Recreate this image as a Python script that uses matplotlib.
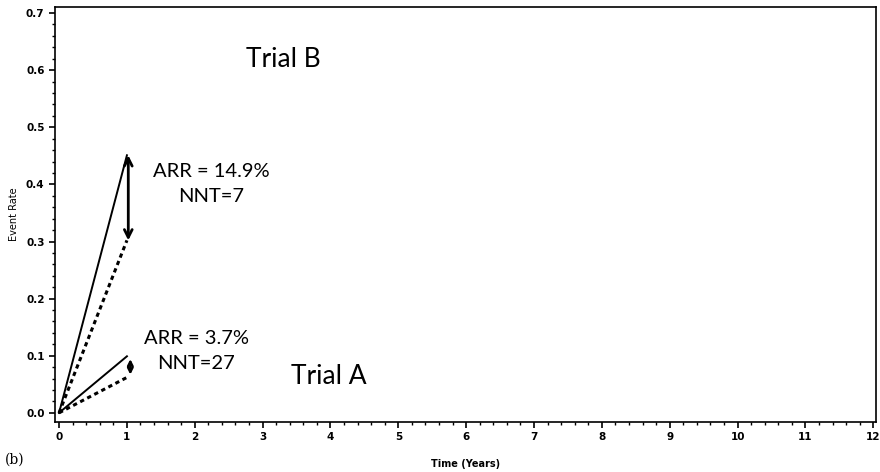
import matplotlib.pyplot as plt
from matplotlib.ticker import AutoMinorLocator

# event rates at time 0 and 1 year
time = [0, 1]
trial_b_control = [0.0, 0.451]
trial_b_treated = [0.0, 0.302]
trial_a_control = [0.0, 0.099]
trial_a_treated = [0.0, 0.062]

x_ticks = list(range(0, 13))
y_ticks = [0.0, 0.1, 0.2, 0.3, 0.4, 0.5, 0.6, 0.7]

fig = plt.figure(figsize=(8.8, 4.72), dpi=100)
ax = fig.add_axes([0.0625, 0.106, 0.933, 0.879])

ax.plot(time, trial_b_control, color='black', lw=1.4)
ax.plot(time, trial_b_treated, color='black', lw=2.2, linestyle=(0, (1.4, 1.2)))
ax.plot(time, trial_a_control, color='black', lw=1.4)
ax.plot(time, trial_a_treated, color='black', lw=2.2, linestyle=(0, (1.4, 1.2)))

# absolute risk reduction arrows
ax.annotate('', xy=(1.02, trial_b_control[1] + 0.005), xytext=(1.02, trial_b_treated[1] - 0.005),
            arrowprops=dict(arrowstyle='<->', color='black', lw=2, mutation_scale=14))
ax.annotate('', xy=(1.05, trial_a_control[1]), xytext=(1.05, trial_a_treated[1]),
            arrowprops=dict(arrowstyle='<->', color='black', lw=1.8, mutation_scale=8))

font = ['Lato', 'DejaVu Sans']
ax.text(3.3, 0.618, 'Trial B', fontsize=19, ha='center', va='center', family=font)
ax.text(3.97, 0.063, 'Trial A', fontsize=19, ha='center', va='center', family=font)
ax.text(2.24, 0.401, 'ARR = 14.9%\nNNT=7', fontsize=14.5, ha='center', va='center',
        family=font, linespacing=1.55)
ax.text(2.02, 0.108, 'ARR = 3.7%\nNNT=27', fontsize=14.5, ha='center', va='center',
        family=font, linespacing=1.55)

ax.set_xlim(-0.06, 12.04)
ax.set_ylim(-0.016, 0.7105)
ax.set_xticks(x_ticks)
ax.set_yticks(y_ticks)
ax.set_yticklabels(['%.1f' % v for v in y_ticks])
ax.xaxis.set_minor_locator(AutoMinorLocator(5))
ax.yaxis.set_minor_locator(AutoMinorLocator(5))
ax.tick_params(which='major', length=4, width=1.2, labelsize=7.5)
ax.tick_params(which='minor', length=2, width=1)
for lab in ax.get_xticklabels() + ax.get_yticklabels():
    lab.set_fontweight('bold')
for s in ax.spines.values():
    s.set_linewidth(1.2)

ax.set_xlabel('Time (Years)', fontsize=7, fontweight='bold', labelpad=12)
ax.set_ylabel('Event Rate', fontsize=7, labelpad=5)
fig.text(0.006, 0.018, '(b)', fontsize=10, family='DejaVu Serif')

plt.savefig('out.png', dpi=100)
